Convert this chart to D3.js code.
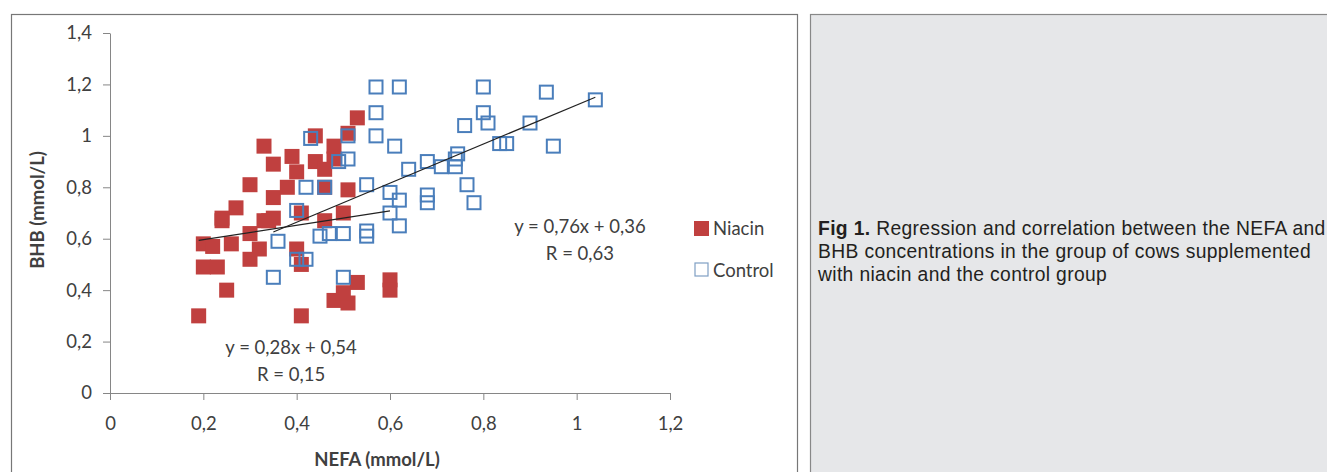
<!DOCTYPE html>
<html>
<head>
<meta charset="utf-8">
<script src="https://cdn.jsdelivr.net/npm/d3@7"></script>
<style>
  body { margin: 0; background: #fff; }
  svg { display: block; }
  .tick text { font-family: Lato, sans-serif; font-size: 18.5px; fill: #404040; }
  .axis path, .axis line { stroke: #868686; }
</style>
</head>
<body>
<script>
(function (){

    //niacin group [NEFA, BHB]
    var niacin = [
        [0.19, 0.30], [0.20, 0.49], [0.23, 0.49], [0.25, 0.40], [0.20, 0.58],
        [0.22, 0.57], [0.24, 0.67], [0.26, 0.58], [0.27, 0.72], [0.30, 0.81],
        [0.30, 0.62], [0.30, 0.52], [0.32, 0.56], [0.33, 0.96], [0.35, 0.89],
        [0.35, 0.76], [0.34, 0.67], [0.35, 0.68], [0.39, 0.92], [0.40, 0.86],
        [0.38, 0.80], [0.41, 0.70], [0.40, 0.56], [0.41, 0.50], [0.41, 0.30],
        [0.44, 1.00], [0.44, 0.90], [0.46, 0.87], [0.48, 0.96], [0.48, 0.91],
        [0.46, 0.67], [0.51, 0.79], [0.50, 0.70], [0.51, 1.01], [0.53, 1.07],
        [0.48, 0.36], [0.51, 0.35], [0.53, 0.43], [0.50, 0.39], [0.60, 0.44],
        [0.60, 0.40], [0.24, 0.68], [0.33, 0.67], [0.46, 0.80]
    ];

    //control group [NEFA, BHB]
    var control = [
        [0.35, 0.45], [0.36, 0.59], [0.40, 0.71], [0.40, 0.52], [0.42, 0.52],
        [0.43, 0.99], [0.42, 0.80], [0.46, 0.80], [0.45, 0.61], [0.47, 0.62],
        [0.50, 0.62], [0.49, 0.90], [0.51, 0.91], [0.51, 1.00], [0.50, 0.45],
        [0.55, 0.61], [0.55, 0.63], [0.55, 0.81], [0.57, 1.19], [0.57, 1.09],
        [0.57, 1.00], [0.61, 0.96], [0.60, 0.78], [0.60, 0.70], [0.62, 1.19],
        [0.64, 0.87], [0.62, 0.75], [0.62, 0.65], [0.68, 0.77], [0.68, 0.74],
        [0.68, 0.90], [0.71, 0.88], [0.74, 0.88], [0.745, 0.93], [0.74, 0.91],
        [0.765, 0.81], [0.78, 0.74], [0.76, 1.04], [0.80, 1.19], [0.80, 1.09],
        [0.81, 1.05], [0.835, 0.97], [0.85, 0.97], [0.90, 1.05], [0.935, 1.17],
        [0.95, 0.96], [1.04, 1.14]
    ];

    //linear trend lines: slope, intercept, x range
    var trends = [
        {name: "Niacin", slope: 0.28, intercept: 0.54, from: 0.19, to: 0.60},
        {name: "Control", slope: 0.76, intercept: 0.36, from: 0.35, to: 1.04}
    ];

    //equation labels, anchored in data units
    var equations = [
        {lines: ["y = 0,28x + 0,54", "R = 0,15"], x: 0.388, y: 0.152},
        {lines: ["y = 0,76x + 0,36", "R = 0,63"], x: 1.007, y: 0.622}
    ];

    var xTicks = [0, 0.2, 0.4, 0.6, 0.8, 1, 1.2];
    var yTicks = [0, 0.2, 0.4, 0.6, 0.8, 1, 1.2, 1.4];

    var caption = [
        [{t: "Fig 1.", b: true}, {t: " Regression and correlation between the NEFA and", b: false}],
        [{t: "BHB concentrations in the group of cows supplemented", b: false}],
        [{t: "with niacin and the control group", b: false}]
    ];

    var red = "#c0403f", blue = "#4a7ebb";
    var chartFont = "Lato, sans-serif";

    var svg = d3.select("body").append("svg")
        .attr("width", 1327)
        .attr("height", 472);

    //frames
    svg.append("rect")
        .attr("x", 11.5).attr("y", 14.5)
        .attr("width", 786).attr("height", 480)
        .attr("fill", "#fff").attr("stroke", "#777").attr("stroke-width", 1.2);
    svg.append("rect")
        .attr("x", 810.5).attr("y", 14.5)
        .attr("width", 540).attr("height", 480)
        .attr("fill", "#e6e7e9").attr("stroke", "#888").attr("stroke-width", 1.2);

    var x = d3.scaleLinear().domain([0, 1.2]).range([110, 670]);
    var y = d3.scaleLinear().domain([0, 1.4]).range([393, 33]);

    var fmt = function(d){ return String(d).replace(".", ","); };

    //axes
    var xAxis = svg.append("g")
        .attr("class", "axis")
        .attr("transform", "translate(0," + y(0) + ")")
        .call(d3.axisBottom(x).tickValues(xTicks).tickSize(7).tickSizeOuter(0).tickFormat(fmt));
    xAxis.selectAll(".tick text").attr("y", 37).attr("dy", 0);

    var yAxis = svg.append("g")
        .attr("class", "axis")
        .attr("transform", "translate(" + x(0) + ",0)")
        .call(d3.axisLeft(y).tickValues(yTicks).tickSize(7).tickSizeOuter(0).tickFormat(fmt));
    yAxis.selectAll(".tick text").attr("x", -18);

    //axis titles
    svg.append("text")
        .attr("x", 377).attr("y", 466)
        .attr("text-anchor", "middle")
        .style("font-family", chartFont)
        .style("font-size", "18.5px").style("font-weight", "bold").style("fill", "#404040")
        .text("NEFA (mmol/L)");
    svg.append("text")
        .attr("transform", "translate(44,210) rotate(-90)")
        .attr("text-anchor", "middle")
        .style("font-family", chartFont)
        .style("font-size", "18.5px").style("font-weight", "bold").style("fill", "#404040")
        .text("BHB (mmol/L)");

    var size = 15;

    //niacin markers
    svg.selectAll(".niacin")
        .data(niacin)
        .enter()
        .append("rect")
        .attr("class", "niacin")
        .attr("x", function(d){ return x(d[0]) - size / 2; })
        .attr("y", function(d){ return y(d[1]) - size / 2; })
        .attr("width", size).attr("height", size)
        .attr("fill", red);

    //control markers
    svg.selectAll(".control")
        .data(control)
        .enter()
        .append("rect")
        .attr("class", "control")
        .attr("x", function(d){ return x(d[0]) - (size - 2) / 2; })
        .attr("y", function(d){ return y(d[1]) - (size - 2) / 2; })
        .attr("width", size - 2).attr("height", size - 2)
        .attr("fill", "none").attr("stroke", blue).attr("stroke-width", 2);

    //trend lines
    svg.selectAll(".trend")
        .data(trends)
        .enter()
        .append("line")
        .attr("class", "trend")
        .attr("x1", function(d){ return x(d.from); })
        .attr("y1", function(d){ return y(d.slope * d.from + d.intercept); })
        .attr("x2", function(d){ return x(d.to); })
        .attr("y2", function(d){ return y(d.slope * d.to + d.intercept); })
        .attr("stroke", "#222").attr("stroke-width", 1.2);

    //equation labels
    equations.forEach(function(eq){
        var t = svg.append("text")
            .attr("text-anchor", "middle")
            .style("font-family", chartFont)
            .style("font-size", "18.5px").style("fill", "#404040");
        eq.lines.forEach(function(l, i){
            t.append("tspan")
                .attr("x", x(eq.x))
                .attr("y", y(eq.y) + i * 27)
                .text(l);
        });
    });

    //legend
    svg.append("rect").attr("x", 694).attr("y", 221).attr("width", 15).attr("height", 15).attr("fill", red);
    svg.append("rect").attr("x", 695).attr("y", 263).attr("width", 13).attr("height", 13)
        .attr("fill", "none").attr("stroke", "#7f9fc4").attr("stroke-width", 1.2);
    svg.append("text").attr("x", 713).attr("y", 235)
        .style("font-family", chartFont).style("font-size", "18.5px").style("fill", "#404040")
        .text("Niacin");
    svg.append("text").attr("x", 713).attr("y", 277)
        .style("font-family", chartFont).style("font-size", "18.5px").style("fill", "#404040")
        .text("Control");

    //caption, one text per line
    caption.forEach(function(line, i){
        var t = svg.append("text")
            .attr("x", 818).attr("y", 235 + i * 23)
            .style("font-family", "Liberation Sans, Arial, sans-serif")
            .style("font-size", "19.3px").style("letter-spacing", "0.35px")
            .style("fill", "#231f20");
        line.forEach(function(part){
            t.append("tspan")
                .style("font-weight", part.b ? "bold" : "normal")
                .text(part.t);
        });
    });

})();
</script>
</body>
</html>
